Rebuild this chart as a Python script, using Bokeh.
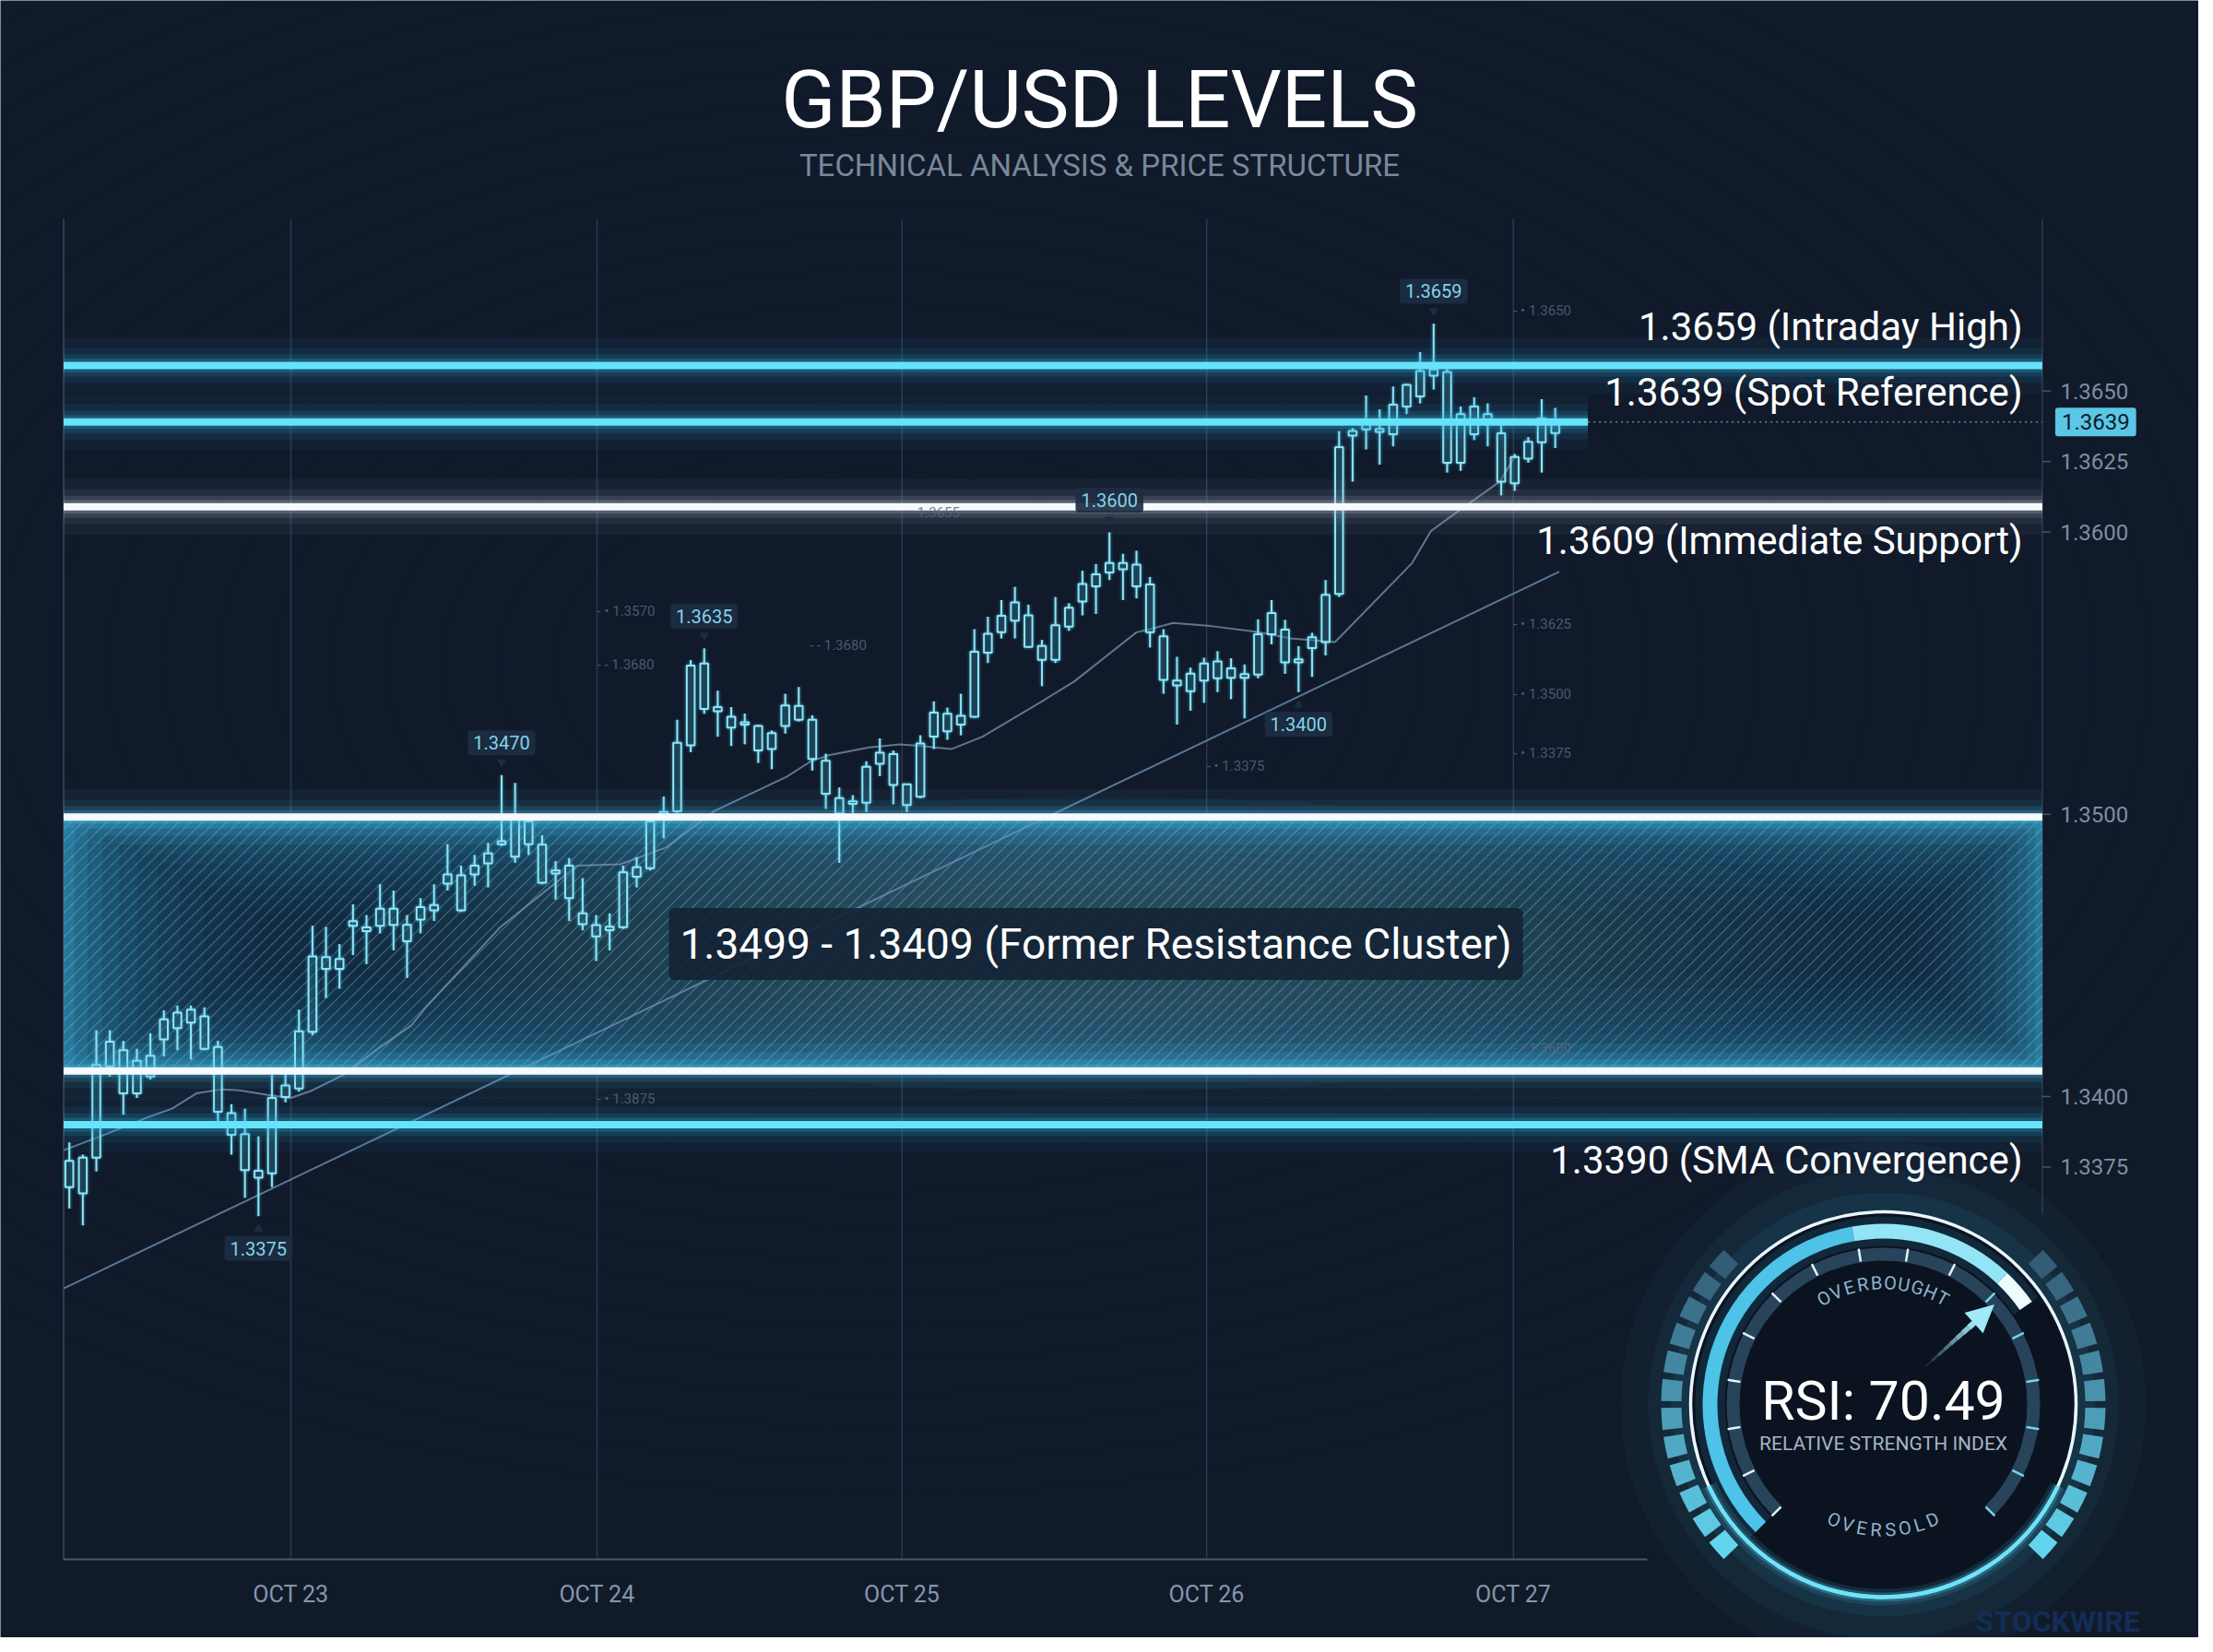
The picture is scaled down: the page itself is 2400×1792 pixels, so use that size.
import numpy as np
from bokeh.plotting import figure
from bokeh.models import Range1d, LinearAxis, FixedTicker, PrintfTickFormatter, Label
from bokeh.core.properties import value
from bokeh.embed import file_html
from bokeh.resources import INLINE

# ============================ DATA ============================
candle_open = [1.33679, 1.33783, 1.33783, 1.34107, 1.34164, 1.34011, 1.34071, 1.34202, 1.34242, 1.34308,
               1.34284, 1.34175, 1.33941, 1.33867, 1.33737, 1.33728, 1.33998, 1.34028, 1.34229, 1.34494,
               1.34452, 1.34605, 1.34599, 1.34605, 1.34665, 1.34608, 1.34627, 1.34660, 1.34754, 1.34784,
               1.34787, 1.34826, 1.34894, 1.34981, 1.34975, 1.34892, 1.34801, 1.34818, 1.34649, 1.34607,
               1.34589, 1.34600, 1.34779, 1.34809, 1.34996, 1.35011, 1.35244, 1.35534, 1.35380, 1.35346,
               1.35326, 1.35313, 1.35231, 1.35313, 1.35384, 1.35335, 1.35190, 1.35057, 1.35037, 1.35041,
               1.35179, 1.35213, 1.35106, 1.35062, 1.35275, 1.35356, 1.35318, 1.35346, 1.35573, 1.35645,
               1.35686, 1.35705, 1.35596, 1.35547, 1.35665, 1.35754, 1.35808, 1.35857, 1.35890, 1.35885,
               1.35814, 1.35631, 1.35474, 1.35436, 1.35474, 1.35542, 1.35517, 1.35484, 1.35495, 1.35638,
               1.35654, 1.35549, 1.35589, 1.35610, 1.35781, 1.36342, 1.36364, 1.36366, 1.36347, 1.36445,
               1.36481, 1.36554, 1.36567, 1.36418, 1.36347, 1.36418, 1.36350, 1.36266, 1.36260, 1.36318,
               1.36391]
candle_high = [1.33837, 1.33794, 1.34235, 1.34235, 1.34197, 1.34169, 1.34224, 1.34305, 1.34322, 1.34322,
               1.34316, 1.34197, 1.33973, 1.33957, 1.33859, 1.34077, 1.34082, 1.34308, 1.34605, 1.34601,
               1.34540, 1.34681, 1.34643, 1.34752, 1.34730, 1.34643, 1.34703, 1.34752, 1.34894, 1.34818,
               1.34856, 1.34899, 1.35139, 1.35111, 1.34992, 1.34926, 1.34834, 1.34845, 1.34774, 1.34643,
               1.34649, 1.34818, 1.34848, 1.34992, 1.35063, 1.35335, 1.35547, 1.35588, 1.35438, 1.35380,
               1.35357, 1.35318, 1.35297, 1.35427, 1.35451, 1.35351, 1.35215, 1.35095, 1.35068, 1.35188,
               1.35269, 1.35226, 1.35108, 1.35280, 1.35400, 1.35378, 1.35427, 1.35656, 1.35700, 1.35759,
               1.35806, 1.35743, 1.35618, 1.35770, 1.35748, 1.35863, 1.35887, 1.35999, 1.35923, 1.35934,
               1.35841, 1.35656, 1.35558, 1.35520, 1.35555, 1.35578, 1.35553, 1.35531, 1.35691, 1.35759,
               1.35689, 1.35596, 1.35643, 1.35830, 1.36358, 1.36369, 1.36484, 1.36435, 1.36516, 1.36525,
               1.36638, 1.36739, 1.36584, 1.36445, 1.36478, 1.36456, 1.36386, 1.36277, 1.36337, 1.36471,
               1.36440]
candle_low = [1.33603, 1.33543, 1.33734, 1.34071, 1.33935, 1.33995, 1.34060, 1.34142, 1.34164, 1.34131,
              1.34164, 1.33913, 1.33794, 1.33641, 1.33576, 1.33679, 1.33979, 1.34017, 1.34218, 1.34349,
              1.34382, 1.34501, 1.34469, 1.34578, 1.34518, 1.34420, 1.34578, 1.34622, 1.34730, 1.34654,
              1.34747, 1.34741, 1.34888, 1.34828, 1.34856, 1.34752, 1.34698, 1.34622, 1.34589, 1.34480,
              1.34518, 1.34594, 1.34741, 1.34801, 1.34915, 1.35005, 1.35220, 1.35356, 1.35275, 1.35242,
              1.35248, 1.35182, 1.35160, 1.35286, 1.35329, 1.35155, 1.35019, 1.34828, 1.35003, 1.35008,
              1.35135, 1.35035, 1.35008, 1.35057, 1.35231, 1.35264, 1.35280, 1.35342, 1.35536, 1.35623,
              1.35623, 1.35591, 1.35454, 1.35536, 1.35650, 1.35705, 1.35710, 1.35830, 1.35759, 1.35765,
              1.35591, 1.35427, 1.35318, 1.35367, 1.35395, 1.35433, 1.35408, 1.35340, 1.35482, 1.35602,
              1.35498, 1.35433, 1.35487, 1.35563, 1.35770, 1.36179, 1.36293, 1.36239, 1.36304, 1.36418,
              1.36456, 1.36505, 1.36211, 1.36217, 1.36326, 1.36304, 1.36130, 1.36146, 1.36246, 1.36211,
              1.36298]
candle_close = [1.33772, 1.33657, 1.34112, 1.34194, 1.34011, 1.34126, 1.34144, 1.34273, 1.34297, 1.34262,
                1.34169, 1.33946, 1.33864, 1.33739, 1.33712, 1.33995, 1.34039, 1.34231, 1.34496, 1.34452,
                1.34487, 1.34621, 1.34586, 1.34665, 1.34608, 1.34550, 1.34671, 1.34678, 1.34787, 1.34660,
                1.34818, 1.34861, 1.34905, 1.34850, 1.34894, 1.34758, 1.34790, 1.34703, 1.34611, 1.34567,
                1.34602, 1.34794, 1.34812, 1.34975, 1.35008, 1.35253, 1.35527, 1.35373, 1.35365, 1.35307,
                1.35318, 1.35226, 1.35288, 1.35386, 1.35335, 1.35196, 1.35073, 1.35003, 1.35046, 1.35168,
                1.35218, 1.35104, 1.35033, 1.35251, 1.35360, 1.35294, 1.35349, 1.35576, 1.35640, 1.35703,
                1.35751, 1.35593, 1.35547, 1.35670, 1.35732, 1.35816, 1.35850, 1.35890, 1.35868, 1.35808,
                1.35645, 1.35476, 1.35457, 1.35498, 1.35534, 1.35482, 1.35484, 1.35497, 1.35638, 1.35713,
                1.35538, 1.35538, 1.35627, 1.35778, 1.36301, 1.36358, 1.36391, 1.36355, 1.36451, 1.36522,
                1.36571, 1.36576, 1.36246, 1.36246, 1.36445, 1.36386, 1.36179, 1.36173, 1.36320, 1.36402,
                1.36351]

# moving average (candle index, price)
ma_index = [-0.4, 2.3, 6.0, 7.6, 9.4, 11.2, 12.6, 14.6, 16.4, 18.0, 20.3, 23.0, 25.3, 26.4, 31.9,
            37.6, 40.8, 44.2, 47.8, 53.1, 54.9, 56.2, 59.2, 61.5, 63.1, 65.3, 67.6, 69.9, 72.2, 74.4,
            76.7, 79.0, 80.4, 81.7, 84.5, 88.1, 90.4, 93.7, 99.4, 100.8, 102.7, 105.9, 107.0]
ma_value = [1.33810, 1.33859, 1.33930, 1.33957, 1.34011, 1.34025, 1.34022, 1.34006, 1.33995, 1.34022,
            1.34077, 1.34175, 1.34251, 1.34316, 1.34600, 1.34818, 1.34823, 1.34883, 1.35013, 1.35133,
            1.35188, 1.35209, 1.35237, 1.35248, 1.35242, 1.35231, 1.35275, 1.35340, 1.35406, 1.35471,
            1.35558, 1.35645, 1.35661, 1.35678, 1.35667, 1.35645, 1.35623, 1.35610, 1.35890, 1.36004,
            1.36070, 1.36179, 1.36266]
trend_index = [-0.42, 110.3]
trend_value = [1.3332, 1.3586]

day_tick_pos = [16.4, 39.07, 61.64, 84.2, 106.9]
day_tick_labels = ["OCT 23", "OCT 24", "OCT 25", "OCT 26", "OCT 27"]
price_ticks = [1.3375, 1.3400, 1.3500, 1.3600, 1.3625, 1.3650]

level_prices = [1.3659, 1.3639, 1.3609, 1.3390]
level_texts = ["1.3659 (Intraday High)", "1.3639 (Spot Reference)",
               "1.3609 (Immediate Support)", "1.3390 (SMA Convergence)"]
spot_price = 1.3639
zone_top = 1.3499
zone_bottom = 1.3409
zone_text = "1.3499 - 1.3409 (Former Resistance Cluster)"

callout_candle = [101, 77, 47, 32, 14, 91]
callout_text = ["1.3659", "1.3600", "1.3635", "1.3470", "1.3375", "1.3400"]
callout_side = ["high", "high", "high", "high", "low", "low"]

ghost_text = ["- • 1.3650", "- • 1.3655", "- • 1.3570", "- - 1.3680", "- - 1.3680", "- • 1.3625",
              "- • 1.3500", "- • 1.3375", "- • 1.3375", "- • 1.3600", "- • 1.3875"]
ghost_index = [106.9, 61.64, 39.07, 39.07, 54.8, 106.9, 106.9, 106.9, 84.2, 106.9, 39.07]
ghost_price = [1.36785, 1.36070, 1.35720, 1.35530, 1.35600, 1.35675, 1.35425, 1.35215, 1.35170,
               1.34170, 1.33990]

rsi_value = 70.49

# ============================ LAYOUT ============================
W, H = 2384, 1776
SX = 14.6496            # screen px per candle
SY = 30612.0            # screen px per price unit
X0 = -5.099
X1 = X0 + W / SX
Y0 = 1.320822
Y1 = Y0 + H / SY


def cx2x(cx):
    return X0 + cx / SX


def cy2y(cy):
    return Y1 - cy / SY


def x2cx(x):
    return (x - X0) * SX


def y2cy(y):
    return (Y1 - y) * SY


def dxp(px):
    return px / SX


def dyp(px):
    return px / SY


BG = "#111a29"
FONT = "Roboto"

chart_left = cx2x(68.5)
chart_right = cx2x(2214.4)
chart_top = cy2y(237)
chart_bottom = cy2y(1691)
axis_end = cx2x(1786)
right_line_bottom = cy2y(1317)
spot_solid_end = cx2x(1721.6)
label_right = cx2x(2193)
zone_label_x = cx2x(1188)

p = figure(width=W, height=H, x_range=Range1d(X0, X1), y_range=Range1d(Y0, Y1),
           output_backend="svg", toolbar_location=None,
           x_axis_location=None, y_axis_location=None, min_border=0,
           background_fill_color=BG, border_fill_color=BG, outline_line_color=None)
p.grid.visible = False

# ---- soft background glow ----
for w in np.linspace(3000, 700, 20):
    p.ellipse(x=[cx2x(950)], y=[cy2y(720)], width=w, height=w * 0.6,
              width_units="screen", height_units="screen",
              fill_color="#233b5c", fill_alpha=0.025, line_color=None)

# ---- frame / grid lines ----
p.segment(x0=day_tick_pos, y0=[chart_bottom] * 5, x1=day_tick_pos, y1=[chart_top] * 5,
          line_color="#29384d", line_width=1.5)
p.segment(x0=[chart_left], y0=[chart_bottom], x1=[chart_left], y1=[chart_top],
          line_color="#3d4a5d", line_width=1.5)
p.segment(x0=[chart_right], y0=[right_line_bottom], x1=[chart_right], y1=[chart_top],
          line_color="#2c3a4d", line_width=1.5)
p.segment(x0=[chart_left], y0=[chart_bottom], x1=[axis_end], y1=[chart_bottom],
          line_color="#4b576a", line_width=2)
p.segment(x0=[chart_right] * len(price_ticks), y0=price_ticks,
          x1=[chart_right + dxp(9)] * len(price_ticks), y1=price_ticks,
          line_color="#4a5568", line_width=1.5)

# ---- resistance cluster zone ----
p.quad(left=[chart_left], right=[chart_right], top=[zone_top], bottom=[zone_bottom],
       fill_color="#2e9ac4", fill_alpha=0.72, line_color=None)
for inset in [6, 13, 21, 30, 40, 51, 63, 76, 90, 104]:
    p.quad(left=[chart_left + dxp(inset * 2.0)], right=[chart_right - dxp(inset * 1.3)],
           top=[zone_top - dyp(inset)], bottom=[zone_bottom + dyp(inset)],
           fill_color="#0f1c2c", fill_alpha=0.15, line_color=None)
# whitish haze around the zone caption
for w in np.linspace(1600, 700, 10):
    p.ellipse(x=[zone_label_x], y=[(zone_top + zone_bottom) / 2], width=w, height=w * 0.2,
              width_units="screen", height_units="screen",
              fill_color="#d3e2ec", fill_alpha=0.016, line_color=None)
zx0, zx1 = x2cx(chart_left), x2cx(chart_right)
zyt, zyb = y2cy(zone_top), y2cy(zone_bottom)
hh = zyb - zyt
hx, hy = [], []
for s in np.arange(zx0 - hh, zx1, 13.0):
    a0 = max(s, zx0)
    a1 = min(s + hh, zx1)
    if a1 <= a0:
        continue
    hx.append([cx2x(a0), cx2x(a1)])
    hy.append([cy2y(zyb - (a0 - s)), cy2y(zyb - (a1 - s))])
p.multi_line(xs=hx, ys=hy, line_color="#a6dcef", line_alpha=0.3, line_width=1.3)

# ---- moving average & trendline ----
p.line(ma_index, ma_value, line_color="#7b96b3", line_alpha=0.75, line_width=2)
p.line(trend_index, trend_value, line_color="#6a8db0", line_alpha=0.8, line_width=2)

# ---- candles ----
idx = np.arange(len(candle_open))
o = np.array(candle_open)
c = np.array(candle_close)
hi = np.array(candle_high)
lo = np.array(candle_low)
btop = np.maximum(o, c)
bbot = np.minimum(o, c)
for lw, la in [(7, 0.10), (4, 0.18)]:
    p.segment(x0=idx, y0=hi, x1=idx, y1=lo, line_color="#4fcdf0", line_width=lw, line_alpha=la)
    p.vbar(x=idx, width=0.58, top=btop, bottom=bbot, fill_alpha=0, line_color="#4fcdf0",
           line_width=lw, line_alpha=la)
p.segment(x0=idx, y0=hi, x1=idx, y1=btop, line_color="#8fe6f8", line_width=2)
p.segment(x0=idx, y0=bbot, x1=idx, y1=lo, line_color="#8fe6f8", line_width=2)
p.vbar(x=idx, width=0.58, top=btop, bottom=bbot, fill_color="#0f1c2c", fill_alpha=0.25,
       line_color="#8fe6f8", line_width=2)


# ---- level lines ----
def glow_line(y, xa, xb, core, glow):
    for w, a in [(60, 0.05), (38, 0.08), (24, 0.13), (15, 0.22)]:
        p.segment(x0=[xa], y0=[y], x1=[xb], y1=[y], line_color=glow, line_width=w, line_alpha=a)
    p.segment(x0=[xa], y0=[y], x1=[xb], y1=[y], line_color=core, line_width=8)


CYAN_CORE, CYAN_GLOW = "#66e3f8", "#2fb8e6"
WHITE_CORE = "#f6fafd"
glow_line(zone_top, chart_left, chart_right, WHITE_CORE, "#46bde6")
glow_line(zone_bottom, chart_left, chart_right, WHITE_CORE, "#46bde6")
level_style = {1.3659: (CYAN_CORE, CYAN_GLOW), 1.3639: (CYAN_CORE, CYAN_GLOW),
               1.3609: (WHITE_CORE, "#b7c4d2"), 1.3390: (CYAN_CORE, CYAN_GLOW)}
for lv in level_prices:
    core, glow = level_style[lv]
    end = spot_solid_end if lv == spot_price else chart_right
    glow_line(lv, chart_left, end, core, glow)
p.segment(x0=[spot_solid_end], y0=[spot_price], x1=[chart_right], y1=[spot_price],
          line_color="#8a9bb0", line_width=1.5, line_dash="2 4", line_alpha=0.8)

# level labels (screen offsets from their line; negative = below)
lab_off = {1.3659: 42, 1.3639: 32, 1.3609: -37, 1.3390: -38}
p.text(x=[label_right] * len(level_prices), y=[lv + dyp(lab_off[lv]) for lv in level_prices],
       text=level_texts, text_font=value(FONT), text_font_size="42px", text_color="#ffffff",
       text_align="right", text_baseline="middle")

# ---- ghost reference labels ----
p.text(x=ghost_index, y=ghost_price, text=ghost_text, text_font=value(FONT),
       text_font_size="15px", text_color="#56667b", text_alpha=0.85,
       text_align="left", text_baseline="middle")

# ---- callouts ----
tri_x, tri_y, tri_m = [], [], []
for ci, txt, side in zip(callout_candle, callout_text, callout_side):
    if side == "high":
        yy = candle_high[ci] + dyp(35)
        tri_y.append(candle_high[ci] + dyp(14))
        tri_m.append("inverted_triangle")
    else:
        yy = candle_low[ci] - dyp(35)
        tri_y.append(candle_low[ci] - dyp(14))
        tri_m.append("triangle")
    tri_x.append(ci)
    p.add_layout(Label(x=ci, y=yy, text=txt, text_font=FONT, text_font_size="20px",
                       text_color="#86d3ea", text_align="center", text_baseline="middle",
                       background_fill_color="#1c2d42", background_fill_alpha=0.92,
                       padding=6, border_radius=4))
p.scatter(x=tri_x, y=tri_y, marker=tri_m, size=10, fill_color="#1c2d42", line_color=None)

# ---- zone label ----
p.add_layout(Label(x=zone_label_x, y=(zone_top + zone_bottom) / 2, text=zone_text,
                   text_font=FONT, text_font_size="46px", text_color="#ffffff",
                   text_align="center", text_baseline="middle",
                   background_fill_color="#132234", background_fill_alpha=0.9,
                   padding=12, border_radius=6))

# ---- spot price tag ----
p.add_layout(Label(x=chart_right, y=spot_price, x_offset=14, text=f"{spot_price:.4f}",
                   text_font=FONT, text_font_size="24px", text_color="#0d1a2a",
                   text_align="left", text_baseline="middle",
                   background_fill_color="#5cc6e6", background_fill_alpha=1.0,
                   padding=7, border_radius=3))

# ---- title ----
p.text(x=[cx2x(1192)], y=[cy2y(107)], text=["GBP/USD LEVELS"], text_font=value(FONT),
       text_font_size="87px", text_color="#ffffff", text_align="center", text_baseline="middle")
p.text(x=[cx2x(1192)], y=[cy2y(179)], text=["TECHNICAL ANALYSIS & PRICE STRUCTURE"],
       text_font=value(FONT), text_font_size="33px", text_color="#7a8899",
       text_align="center", text_baseline="middle")

# ---- RSI gauge ----
gx, gy = cx2x(2042), cy2y(1523)
D = np.pi / 180


def gpt(r, deg, perp=0.0):
    a = deg * D
    return (gx + dxp(r * np.cos(a) - perp * np.sin(a)), gy + dyp(r * np.sin(a) + perp * np.cos(a)))


for r0, r1, a in [(205, 285, 0.035), (205, 255, 0.05), (205, 230, 0.08)]:
    p.annulus(x=[gx], y=[gy], inner_radius=r0, outer_radius=r1, inner_radius_units="screen",
              outer_radius_units="screen", fill_color="#3cc4ee", fill_alpha=a, line_color=None)
p.circle(x=[gx], y=[gy], radius=208, radius_units="screen", fill_color="#0b1321",
         fill_alpha=0.96, line_color=None)


def mix(c1, c2, t):
    return "#%02x%02x%02x" % tuple(int(a + (b - a) * t) for a, b in zip(c1, c2))


dim, bright = (52, 92, 118), (98, 212, 238)
seg_s, seg_e, seg_c = [], [], []
for k in range(12):
    s = 135 + 7.5 * k + 0.9
    seg_s.append(s * D); seg_e.append((s + 5.7) * D); seg_c.append(mix(dim, bright, k / 11))
    s = -45 + 7.5 * k + 0.9
    seg_s.append(s * D); seg_e.append((s + 5.7) * D); seg_c.append(mix(dim, bright, 1 - k / 11))
p.annular_wedge(x=gx, y=gy, inner_radius=219, outer_radius=241, start_angle=seg_s,
                end_angle=seg_e, inner_radius_units="screen", outer_radius_units="screen",
                fill_color=seg_c, line_color=None)

p.arc(x=[gx], y=[gy], radius=209, start_angle=0, end_angle=2 * np.pi, radius_units="screen",
      line_color="#eaf6fb", line_width=3.5)
for w, a in [(18, 0.12), (10, 0.25)]:
    p.arc(x=[gx], y=[gy], radius=209, start_angle=205 * D, end_angle=335 * D,
          radius_units="screen", line_color="#4fd3f3", line_width=w, line_alpha=a)
p.arc(x=[gx], y=[gy], radius=209, start_angle=205 * D, end_angle=335 * D,
      radius_units="screen", line_color="#6fe3f8", line_width=4.5)

p.annular_wedge(x=gx, y=gy, inner_radius=156, outer_radius=170, start_angle=-45 * D,
                end_angle=225 * D, inner_radius_units="screen", outer_radius_units="screen",
                fill_color="#29475f", fill_alpha=0.95, line_color=None)
tick_ang = np.linspace(225, -45, 16)
tx0, ty0, tx1, ty1, tcol = [], [], [], [], []
for a in tick_ang:
    x0_, y0_ = gpt(157, a)
    x1_, y1_ = gpt(171, a)
    tx0.append(x0_); ty0.append(y0_); tx1.append(x1_); ty1.append(y1_)
    tcol.append("#e4f2fb" if a > 45 else "#79d3ee")
p.segment(x0=tx0, y0=ty0, x1=tx1, y1=ty1, line_color=tcol, line_width=2.5)

val_ang = 225 - 270 * rsi_value / 100
p.annular_wedge(x=gx, y=gy, inner_radius=172, outer_radius=204, start_angle=val_ang * D,
                end_angle=225 * D, inner_radius_units="screen", outer_radius_units="screen",
                fill_color="#3fc4ec", fill_alpha=0.12, line_color=None)
for a0, a1, col in [(100, 225, "#4cc3e7"), (val_ang + 12, 100, "#93e5f6"),
                    (val_ang, val_ang + 12, "#eefbff")]:
    p.annular_wedge(x=gx, y=gy, inner_radius=180, outer_radius=196, start_angle=a0 * D,
                    end_angle=a1 * D, inner_radius_units="screen", outer_radius_units="screen",
                    fill_color=col, line_color=None)


def curved(text, r, center_deg, step, top=True):
    n = len(text)
    xs, ys, ang = [], [], []
    for k in range(n):
        if top:
            a = center_deg + step * ((n - 1) / 2 - k)
            rot = (a - 90) * D
        else:
            a = center_deg - step * ((n - 1) / 2 - k)
            rot = (a - 270) * D
        x_, y_ = gpt(r, a)
        xs.append(x_); ys.append(y_); ang.append(rot)
    p.text(x=xs, y=ys, text=list(text), angle=ang, text_font=value(FONT), text_font_size="20px",
           text_color="#8fb4ca", text_align="center", text_baseline="middle")


curved("OVERBOUGHT", 132, 90, 6.5, top=True)
curved("OVERSOLD", 136, 270, 6.6, top=False)

arrow_deg = 42
for k in range(8):
    r0 = 62 + k * 9
    xa, ya = gpt(r0, arrow_deg)
    xb, yb = gpt(r0 + 9, arrow_deg)
    p.segment(x0=[xa], y0=[ya], x1=[xb], y1=[yb], line_color="#a6ecfa",
              line_width=2 + k * 0.6, line_alpha=0.1 + k * 0.12)
tip = gpt(162, arrow_deg)
b1 = gpt(132, arrow_deg, 15)
b2 = gpt(132, arrow_deg, -15)
p.patch(x=[tip[0], b1[0], b2[0]], y=[tip[1], b1[1], b2[1]], fill_color="#9fe9f8", line_color=None)

p.text(x=[gx], y=[gy + dyp(4)], text=[f"RSI: {rsi_value:.2f}"], text_font=value(FONT),
       text_font_size="59px", text_color="#ffffff", text_align="center", text_baseline="middle")
p.text(x=[gx], y=[gy - dyp(42)], text=["RELATIVE STRENGTH INDEX"], text_font=value(FONT),
       text_font_size="21px", text_color="#a7b6c6", text_align="center", text_baseline="middle")

p.add_layout(Label(x=cx2x(2142), y=cy2y(1758), text="STOCKWIRE", text_font=FONT,
                   text_font_size="32px", text_font_style="bold", text_color="#132d57",
                   text_align="left", text_baseline="middle"))

# ---- axes (negative standoff keeps their side panels empty, so the frame fills the page) ----
xaxis = LinearAxis(fixed_location=cy2y(1703), ticker=FixedTicker(ticks=day_tick_pos),
                   major_label_overrides={pos: lab for pos, lab in zip(day_tick_pos, day_tick_labels)})
xaxis.axis_line_color = None
xaxis.major_tick_line_color = None
xaxis.minor_tick_line_color = None
xaxis.major_tick_out = 0
xaxis.major_tick_in = 0
xaxis.major_label_standoff = -40
xaxis.major_label_text_font = FONT
xaxis.major_label_text_font_size = "25px"
xaxis.major_label_text_color = "#8696ac"
p.add_layout(xaxis, "above")

yaxis = LinearAxis(fixed_location=cx2x(2334), ticker=FixedTicker(ticks=price_ticks),
                   formatter=PrintfTickFormatter(format="%.4f"))
yaxis.axis_line_color = None
yaxis.minor_tick_line_color = None
yaxis.major_tick_line_color = None
yaxis.major_tick_out = 0
yaxis.major_tick_in = 0
yaxis.major_label_standoff = -100
yaxis.major_label_text_font = FONT
yaxis.major_label_text_font_size = "24px"
yaxis.major_label_text_color = "#7f8da2"
p.add_layout(yaxis, "right")

open("out.html", "w").write(file_html(p, INLINE, title="GBP/USD Levels"))
